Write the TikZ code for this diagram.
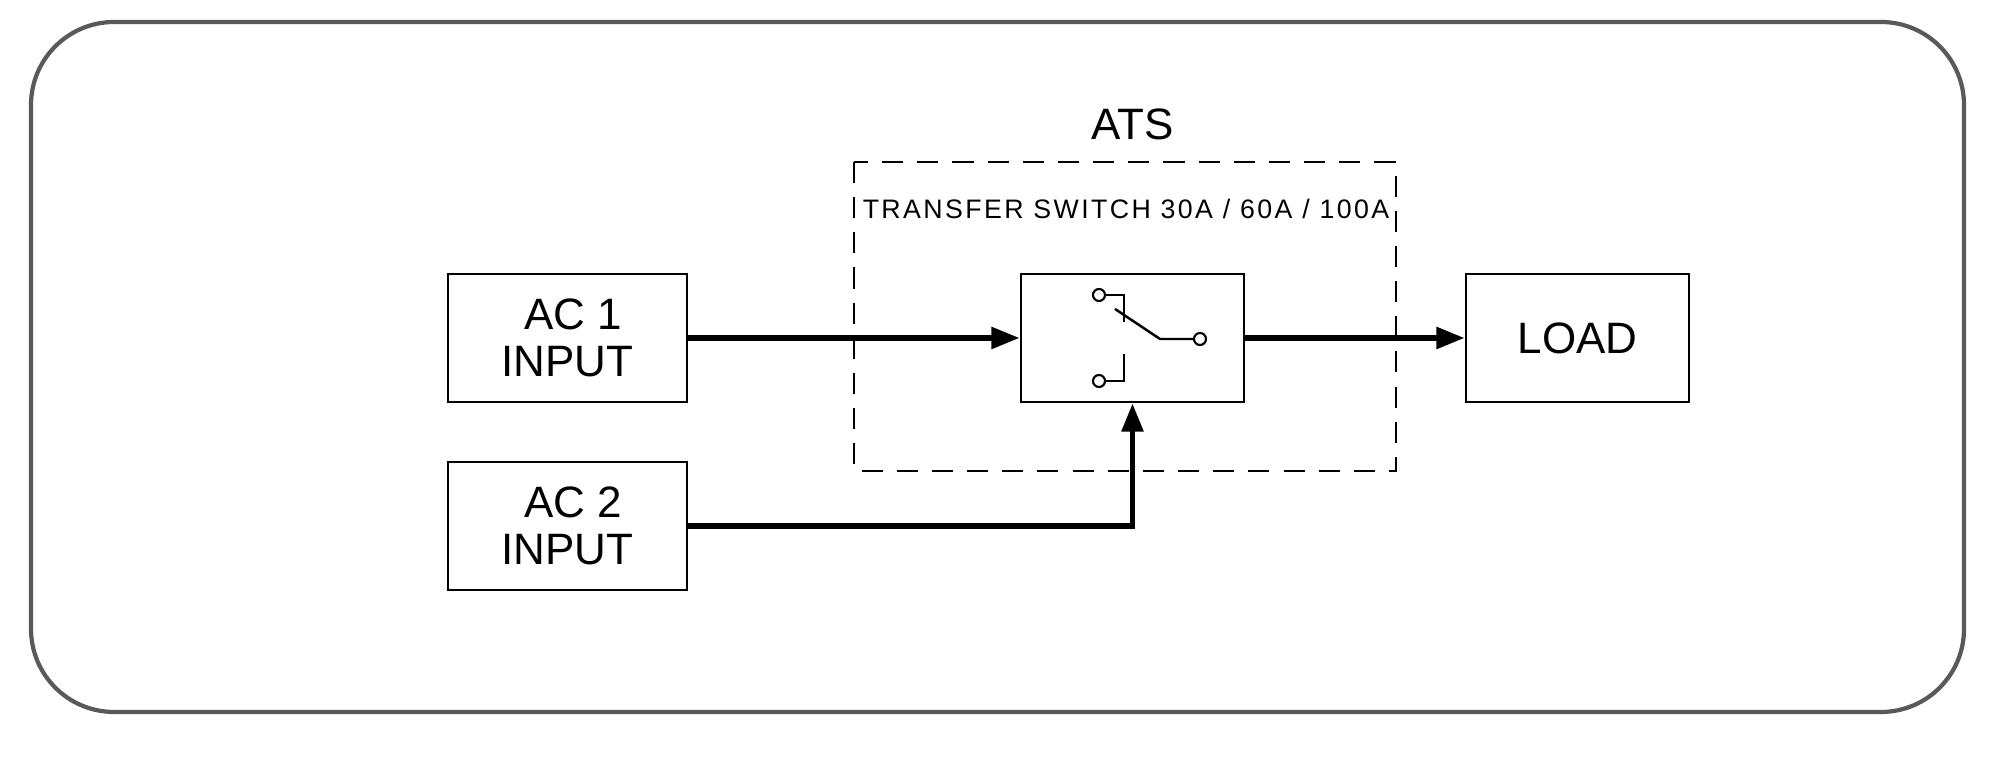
\documentclass[tikz,border=0pt]{standalone}
\usepackage{fontspec}
\setmainfont{Liberation Sans}
\usetikzlibrary{positioning,arrows.meta}

\tikzset{
  blk/.style={draw, line width=0.8pt, minimum width=2.39cm, minimum height=1.28cm, inner sep=0pt, align=center, font=\fontsize{12.5}{13.5}\selectfont},
  feed/.style={line width=1.5pt, -{Triangle[length=8pt,width=6pt]}},
  pin/.style={draw, line width=0.6pt, fill=white, circle, minimum size=0.12cm, inner sep=0pt}
}

\begin{document}
\begin{tikzpicture}[x=0.01cm, y=-0.01cm]
                \useasboundingbox (0,0) rectangle (2002,762);
                %% frame
                \draw[black!65, line width=1.2pt, rounded corners=0.83cm] (31,22) rectangle (1964,712);

                %% ATS
                \draw[dashed, line width=0.8pt, dash pattern=on 6pt off 4pt] (854,162) rectangle (1396,471);
                \node[font=\fontsize{12.5}{14}\selectfont] (ats) at (1133,124) {ATS};
                \node[font=\fontsize{7.6}{9}\selectfont\addfontfeature{LetterSpace=9}] (rating) at (1126,209) {TRANSFER SWITCH 30A / 60A / 100A};

                %% blocks
                \node[blk] (ac1) at (567.5,338) {\hspace{0.12cm}AC 1\\INPUT};
                \node[blk] (ac2) at (567.5,526) {\hspace{0.12cm}AC 2\\INPUT};
                \node[blk, minimum width=2.23cm] (sw) at (1132.5,338) {};
                \node[blk, minimum width=2.23cm] (load) at (1577.5,338) {LOAD};

                %% switch
                \node[pin] (upper) at (1099,295) {};
                \node[pin] (lower) at (1099,381) {};
                \node[pin] (common) at (1200,339) {};
                \draw[line width=0.7pt] (upper) -- (1124,295) -- (1124,322);
                \draw[line width=0.7pt] (lower) -- (1124,381) -- (1124,354);
                \draw[line width=0.7pt] (1115,309) -- (1160,339) -- (common);

                %% feeds
                \draw[feed] (ac1) -- (sw);
                \draw[feed] (sw) -- (load);
                \draw[feed] (ac2.east) -| (sw.south);
\end{tikzpicture}
\end{document}
